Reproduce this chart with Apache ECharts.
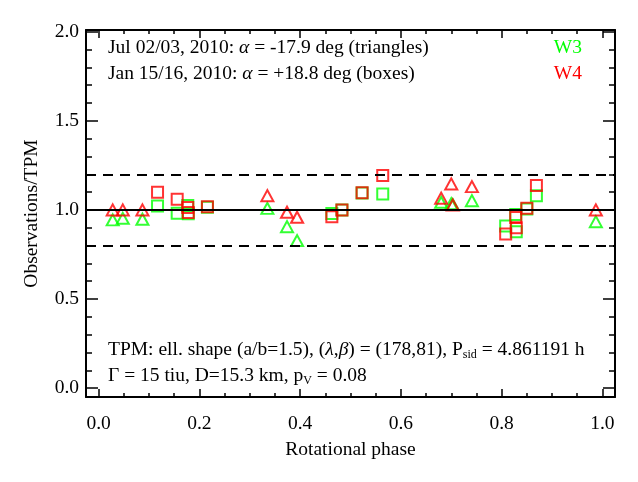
<!DOCTYPE html>
<html>
<head>
<meta charset="utf-8">
<script src="https://cdn.jsdelivr.net/npm/echarts@6/dist/echarts.min.js"></script>
<style>
  html, body { margin: 0; padding: 0; background: #fff; }
  #chart { width: 638px; height: 482px; }
</style>
</head>
<body>
<div id="chart"></div>
<script>
// Jul 02/03 2010 epoch (triangles)
var triPhase = [0.028, 0.048, 0.087, 0.335, 0.374, 0.394, 0.680, 0.700, 0.703, 0.741, 0.987];
var triW3    = [0.944, 0.953, 0.948, 1.009, 0.906, 0.828, 1.043, 1.035, 1.030, 1.052, 0.934];
var triW4    = [1.000, 1.000, 1.000, 1.080, 0.987, 0.959, 1.066, 1.146, 1.028, 1.131, 1.000];

// Jan 15/16 2010 epoch (boxes)
var boxPhase = [0.117, 0.156, 0.177, 0.178, 0.216, 0.463, 0.483, 0.523, 0.564, 0.808, 0.828, 0.829, 0.850, 0.869];
var boxW3    = [1.022, 0.981, 1.025, 0.978, 1.015, 0.980, 1.000, 1.095, 1.090, 0.910, 0.975, 0.878, 1.005, 1.080];
var boxW4    = [1.099, 1.060, 1.013, 0.985, 1.018, 0.962, 1.000, 1.097, 1.193, 0.865, 0.957, 0.900, 1.010, 1.137];

// reference levels
var refSolid  = [1.0];
var refDashed = [1.2, 0.8];

// ticks
var xMajor = [0, 0.2, 0.4, 0.6, 0.8, 1.0];
var yMajor = [0, 0.5, 1.0, 1.5, 2.0];
var xMinor = [];
for (var i = 0; i <= 20; i++) xMinor.push(+(i * 0.05).toFixed(2));
var yMinor = [];
for (var j = 0; j <= 20; j++) yMinor.push(+(j * 0.1).toFixed(1));

var FONT = "'Liberation Serif', 'DejaVu Serif', serif";
var FS = 19.5;
var GREEN = '#00ff00', RED = '#ff0000';

function zip(a, b) {
  return a.map(function (v, k) { return [v, b[k]]; });
}

var X_MIN = -0.025, X_MAX = 1.025, Y_MIN = -0.05, Y_MAX = 2.01;

// one axis per tick set; the minor-tick axes have no line and no labels
function xAx(pos, ticks, len, labels, line) {
  return {
    type: 'value', position: pos, min: X_MIN, max: X_MAX,
    axisLine: { show: line, onZero: false, lineStyle: { color: '#000', width: 2 } },
    axisTick: { show: true, inside: true, length: len, customValues: ticks, lineStyle: { color: '#000', width: 1.5 } },
    axisLabel: labels ? {
      show: true, customValues: xMajor, margin: 17, color: '#000', fontFamily: FONT, fontSize: FS,
      formatter: function (v) { return v.toFixed(1); }
    } : { show: false },
    splitLine: { show: false }
  };
}
function yAx(pos, ticks, len, labels, line) {
  return {
    type: 'value', position: pos, min: Y_MIN, max: Y_MAX,
    axisLine: { show: line, onZero: false, lineStyle: { color: '#000', width: 2 } },
    axisTick: { show: true, inside: true, length: len, customValues: ticks, lineStyle: { color: '#000', width: 1.5 } },
    axisLabel: labels ? {
      show: true, customValues: yMajor, margin: 7, color: '#000', fontFamily: FONT, fontSize: FS,
      formatter: function (v) { return v.toFixed(1); }
    } : { show: false },
    splitLine: { show: false }
  };
}

var xAxes = [
  xAx('bottom', xMajor, 8, true, true), xAx('bottom', xMinor, 4, false, false),
  xAx('top', xMajor, 8, false, true), xAx('top', xMinor, 4, false, false)
];
xAxes[0].name = 'Rotational phase';
xAxes[0].nameLocation = 'middle';
xAxes[0].nameGap = 43;
xAxes[0].nameTextStyle = { color: '#000', fontFamily: FONT, fontSize: FS };

var yAxes = [
  yAx('left', yMajor, 12, true, true), yAx('left', yMinor, 6, false, false),
  yAx('right', yMajor, 12, false, true), yAx('right', yMinor, 6, false, false)
];
yAxes[0].name = 'Observations/TPM';
yAxes[0].nameLocation = 'middle';
yAxes[0].nameGap = 44;
yAxes[0].nameTextStyle = { color: '#000', fontFamily: FONT, fontSize: FS };

function marks(name, data, symbol, size, color) {
  return {
    name: name, type: 'scatter', xAxisIndex: 0, yAxisIndex: 0,
    data: data, symbol: symbol, symbolSize: size,
    itemStyle: { color: 'rgba(0,0,0,0)', borderColor: color, borderWidth: 2 },
    emphasis: { disabled: true }, silent: true
  };
}

var lines = refSolid.map(function (v) {
  return { yAxis: v, lineStyle: { type: 'solid', color: '#000', width: 2 } };
}).concat(refDashed.map(function (v) {
  return { yAxis: v, lineStyle: { type: [10, 7], color: '#000', width: 2 } };
}));

var series = [
  marks('W3 Jul', zip(triPhase, triW3), 'triangle', [12, 11], GREEN),
  marks('W3 Jan', zip(boxPhase, boxW3), 'rect', [11, 11], GREEN),
  marks('W4 Jul', zip(triPhase, triW4), 'triangle', [12, 11], RED),
  marks('W4 Jan', zip(boxPhase, boxW4), 'rect', [11, 11], RED)
];
series[0].markLine = { silent: true, symbol: 'none', label: { show: false }, data: lines, animation: false };
series[0].z = 1;

var rich = {
  i: { fontStyle: 'italic', fontFamily: FONT, fontSize: FS, lineHeight: 22 },
  sub: { fontFamily: FONT, fontSize: 12, lineHeight: 11, verticalAlign: 'bottom' }
};
function label(x, y, text, color, align) {
  return {
    type: 'text', x: x, y: y, silent: true,
    style: {
      text: text, rich: rich, fill: color || '#000', fontFamily: FONT, fontSize: FS, lineHeight: 22,
      align: align || 'left', verticalAlign: 'middle'
    }
  };
}

var chart = echarts.init(document.getElementById('chart'));
chart.setOption({
  animation: false,
  backgroundColor: '#fff',
  grid: { left: 86, right: 23, top: 30, bottom: 85, containLabel: false },
  xAxis: xAxes,
  yAxis: yAxes,
  series: series,
  graphic: [
    label(108, 48, 'Jul 02/03, 2010: {i|α} = -17.9 deg (triangles)'),
    label(108, 74, 'Jan 15/16, 2010: {i|α} = +18.8 deg (boxes)'),
    label(582, 48, 'W3', GREEN, 'right'),
    label(582, 74, 'W4', RED, 'right'),
    label(108, 350, 'TPM: ell. shape (a/b=1.5), ({i|λ},{i|β}) = (178,81), P{sub|sid} = 4.861191 h'),
    label(108, 376, 'Γ = 15 tiu, D=15.3 km, p{sub|V} = 0.08')
  ]
});
</script>
</body>
</html>
